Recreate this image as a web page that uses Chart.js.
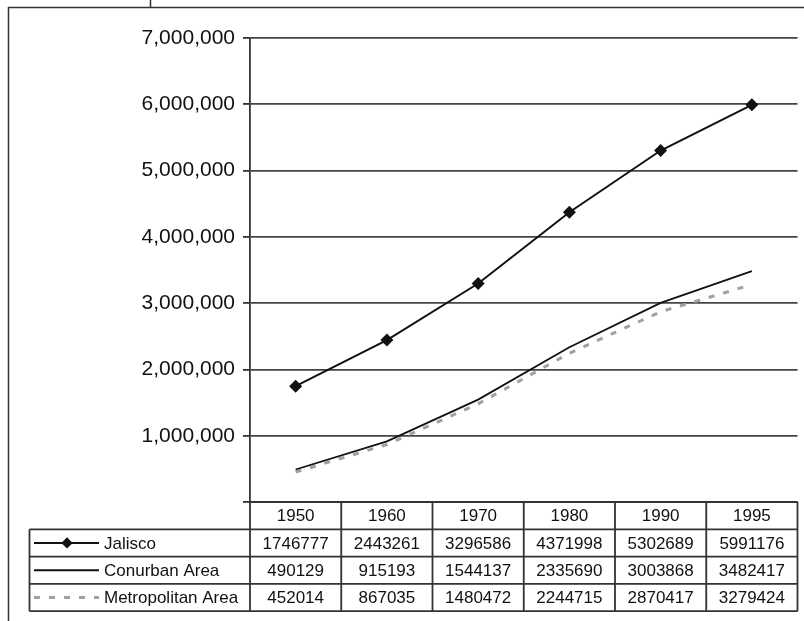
<!DOCTYPE html>
<html>
<head>
<meta charset="utf-8">
<script src="https://cdn.jsdelivr.net/npm/chart.js@4/dist/chart.umd.min.js"></script>
<style>
  html, body { margin: 0; padding: 0; background: #fff; }
  #wrap { width: 804px; height: 621px; position: relative; }
</style>
</head>
<body>
<div id="wrap"><canvas id="c" width="804" height="621"></canvas></div>
<script>
// Population by year
const years = ['1950', '1960', '1970', '1980', '1990', '1995'];
const jalisco = [1746777, 2443261, 3296586, 4371998, 5302689, 5991176];
const conurban = [490129, 915193, 1544137, 2335690, 3003868, 3482417];
const metropolitan = [452014, 867035, 1480472, 2244715, 2870417, 3279424];
const seriesNames = ['Jalisco', 'Conurban Area', 'Metropolitan Area'];
const yTicks = [0, 1000000, 2000000, 3000000, 4000000, 5000000, 6000000, 7000000];

const FONT = '"Liberation Sans", Arial, Helvetica, sans-serif';
const LINE = '#333';
const ROW_H = 27.3;

// Frame lines around the figure plus the data table under the plot
const frameAndTable = {
  id: 'frameAndTable',
  beforeDraw(chart) {
    const ctx = chart.ctx;
    ctx.save();
    ctx.strokeStyle = LINE;
    ctx.lineWidth = 1.5;
    ctx.beginPath();
    ctx.moveTo(8, 7.5); ctx.lineTo(804, 7.5);
    ctx.moveTo(150.5, 0); ctx.lineTo(150.5, 7.5);
    ctx.moveTo(8.5, 7); ctx.lineTo(8.5, 621);
    ctx.stroke();
    ctx.restore();
  },
  afterDraw(chart) {
    const ctx = chart.ctx;
    const xs = chart.scales.x;
    const area = chart.chartArea;
    const slot = (xs.getPixelForValue(1) - xs.getPixelForValue(0));
    const left = area.left, right = area.right;
    const top = area.bottom;
    const legLeft = 29.5;
    const rows = [jalisco, conurban, metropolitan];
    const bottom = top + ROW_H * (rows.length + 1);

    ctx.save();
    ctx.strokeStyle = LINE;
    ctx.lineWidth = 1.8;
    ctx.beginPath();
    // horizontal rules
    for (let r = 0; r <= rows.length + 1; r++) {
      const y = top + r * ROW_H;
      ctx.moveTo(r === 0 ? left : legLeft, y);
      ctx.lineTo(right, y);
    }
    // vertical rules of value columns
    for (let i = 0; i <= years.length; i++) {
      const x = i === years.length ? right : xs.getPixelForValue(i) - slot / 2;
      ctx.moveTo(x, top);
      ctx.lineTo(x, bottom);
    }
    ctx.moveTo(legLeft, top + ROW_H);
    ctx.lineTo(legLeft, bottom);
    ctx.stroke();

    ctx.fillStyle = '#111';
    ctx.font = '17px ' + FONT;
    ctx.textAlign = 'center';
    ctx.textBaseline = 'middle';
    years.forEach((yr, i) => {
      ctx.fillText(yr, xs.getPixelForValue(i), top + ROW_H / 2 + 1);
    });
    rows.forEach((vals, r) => {
      const yc = top + ROW_H * (r + 1) + ROW_H / 2 + 1;
      vals.forEach((v, i) => ctx.fillText(String(v), xs.getPixelForValue(i), yc));
    });

    // legend keys in the first column
    ctx.textAlign = 'left';
    seriesNames.forEach((name, r) => {
      const yc = top + ROW_H * (r + 1) + ROW_H / 2;
      const ds = chart.data.datasets[r];
      ctx.save();
      ctx.strokeStyle = ds.borderColor;
      ctx.lineWidth = ds.borderWidth;
      ctx.setLineDash(ds.borderDash || []);
      ctx.beginPath();
      ctx.moveTo(34, yc);
      ctx.lineTo(99, yc);
      ctx.stroke();
      ctx.restore();
      if (ds.pointRadius > 0) {
        ctx.save();
        ctx.fillStyle = '#111';
        ctx.translate(67, yc);
        ctx.rotate(Math.PI / 4);
        ctx.fillRect(-4, -4, 8, 8);
        ctx.restore();
      }
      ctx.fillText(name, 104, yc + 1);
    });
    ctx.restore();
  }
};

new Chart(document.getElementById('c'), {
  type: 'line',
  data: {
    labels: years,
    datasets: [
      {
        label: seriesNames[0],
        data: jalisco,
        borderColor: '#111',
        backgroundColor: '#111',
        borderWidth: 2,
        pointStyle: 'rectRot',
        pointRadius: 6.5,
        pointBorderWidth: 0,
        tension: 0
      },
      {
        label: seriesNames[1],
        data: conurban,
        borderColor: '#111',
        borderWidth: 1.8,
        pointRadius: 0,
        tension: 0
      },
      {
        label: seriesNames[2],
        data: metropolitan,
        borderColor: '#a0a0a0',
        borderWidth: 3,
        borderDash: [6, 9],
        pointRadius: 0,
        tension: 0
      }
    ]
  },
  options: {
    responsive: false,
    animation: false,
    layout: { padding: { left: 0, top: 38, right: 4, bottom: 119 } },
    plugins: { legend: { display: false }, tooltip: { enabled: false } },
    scales: {
      x: {
        type: 'category',
        offset: true,
        display: false
      },
      y: {
        min: 0,
        max: 7000000,
        afterBuildTicks(scale) { scale.ticks = yTicks.map(v => ({ value: v })); },
        afterFit(scale) { scale.width = 250; },
        border: { display: true, color: LINE, width: 1.8 },
        grid: {
          color: '#444',
          lineWidth: 1.8,
          drawTicks: true,
          tickLength: 7,
          tickColor: LINE
        },
        ticks: {
          color: '#111',
          padding: 8,
          font: { family: FONT, size: 21 },
          callback: (v) => v === 0 ? '' : v.toLocaleString('en-US')
        }
      }
    }
  },
  plugins: [frameAndTable]
});
</script>
</body>
</html>
